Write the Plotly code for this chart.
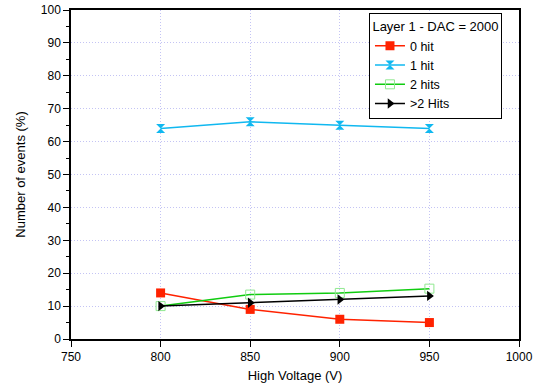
import plotly.graph_objects as go

voltage = [800, 850, 900, 950]
hit0 = [14.0, 9.0, 6.0, 5.0]
hit1 = [64.0, 66.0, 65.0, 64.0]
hit2 = [10.0, 13.5, 14.0, 15.3]
hit_more = [10.0, 11.0, 12.0, 13.1]

x_ticks = [750, 800, 850, 900, 950, 1000]
y_ticks = [0, 10, 20, 30, 40, 50, 60, 70, 80, 90, 100]

FONT = "Liberation Sans, Arial, sans-serif"
GRID = "#C4C4F4"

fig = go.Figure()
fig.add_trace(go.Scatter(x=voltage, y=hit0, mode="lines+markers", name="0 hit",
                         line=dict(color="#FF2200", width=1.5),
                         marker=dict(symbol="square", size=9, color="#FF2200")))
fig.add_trace(go.Scatter(x=voltage, y=hit1, mode="lines+markers", name="1 hit",
                         line=dict(color="#10B8F0", width=1.5),
                         marker=dict(symbol="hourglass", size=9, color="#10B8F0")))
fig.add_trace(go.Scatter(x=voltage, y=hit2, mode="lines+markers", name="2 hits",
                         line=dict(color="#10CC10", width=1.5),
                         marker=dict(symbol="square-open", size=9, color="#90E890",
                                     line=dict(width=1))))
fig.add_trace(go.Scatter(x=voltage, y=hit_more, mode="lines+markers", name=">2 Hits",
                         line=dict(color="#000000", width=1.5),
                         marker=dict(symbol="triangle-right", size=9, color="#000000")))

fig.update_layout(
    width=533, height=392, autosize=False,
    margin=dict(l=71, r=14, t=10, b=53, autoexpand=False),
    paper_bgcolor="white", plot_bgcolor="white",
    font=dict(family=FONT, size=12, color="black"),
    showlegend=True,
    legend=dict(
        x=0.962, y=0.99, xanchor="right", yanchor="top",
        bgcolor="white", bordercolor="black", borderwidth=1,
        font=dict(size=12.5),
        title=dict(text="Layer 1 - DAC = 2000", side="top center", font=dict(size=13)),
        itemwidth=30, tracegroupgap=0,
    ),
)
fig.update_xaxes(
    range=[750, 1000], tickvals=x_ticks, ticktext=[str(v) for v in x_ticks],
    showline=True, linecolor="black", linewidth=1.5, mirror=True,
    ticks="outside", ticklen=6, tickcolor="black",
    showgrid=True, gridcolor=GRID, griddash="1px,2px", gridwidth=1,
    zeroline=False, automargin=False,
    title=dict(text="High Voltage (V)", font=dict(size=13), standoff=8),
    tickfont=dict(size=12),
)
fig.update_yaxes(
    range=[0, 100], tickvals=y_ticks, ticktext=[str(v) for v in y_ticks],
    showline=True, linecolor="black", linewidth=1.5, mirror=True,
    ticks="outside", ticklen=6, tickcolor="black",
    minor=dict(dtick=5, ticks="outside", ticklen=3, tickcolor="black", showgrid=False),
    showgrid=True, gridcolor=GRID, griddash="1px,2px", gridwidth=1,
    zeroline=False, automargin=False,
    title=dict(text="Number of events (%)", font=dict(size=13), standoff=12),
    tickfont=dict(size=12),
)

fig.write_html("out.html",
               config={"displayModeBar": False},
               post_script="document.body.style.margin='0';document.body.style.overflow='hidden';")
